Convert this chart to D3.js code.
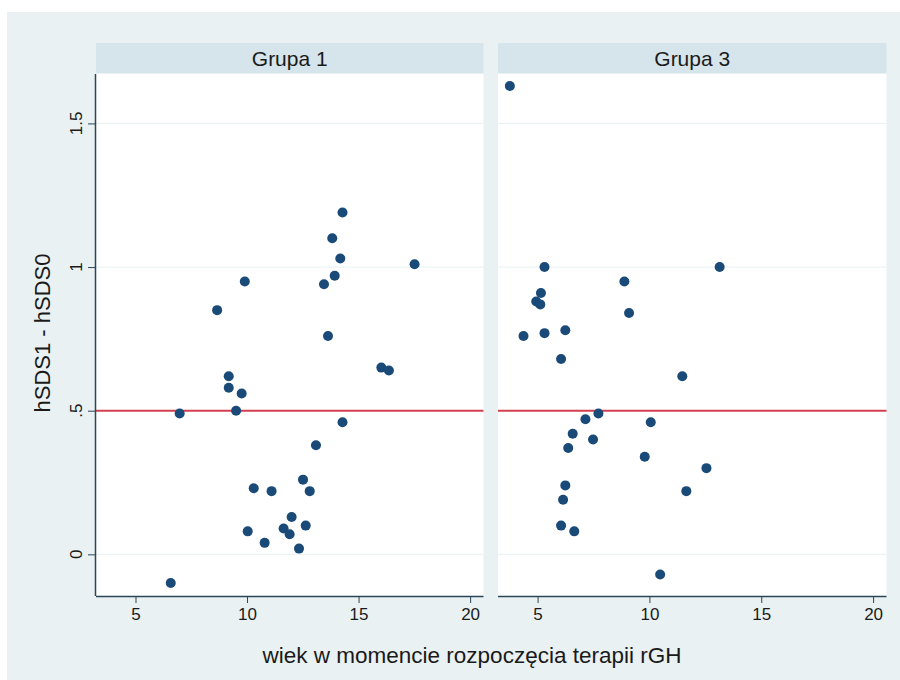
<!DOCTYPE html>
<html>
<head>
<meta charset="utf-8">
<script src="https://cdn.jsdelivr.net/npm/d3@7"></script>
<style>
  html, body { margin: 0; padding: 0; background: #ffffff; }
  svg { display: block; font-family: "Liberation Sans", Arial, sans-serif; }
</style>
</head>
<body>
<svg id="chart" width="900" height="680"></svg>
<script>
// Panel titles
const groups = ["Grupa 1", "Grupa 3"];

// Grupa 1: age at start of rGH therapy and change in hSDS
const ageG1 = [14.28, 13.82, 14.18, 17.51, 13.93, 9.90, 13.45, 8.66, 13.63, 16.02,
               16.36, 9.18, 9.18, 9.76, 6.98, 9.51, 14.28, 13.09, 12.51, 10.30,
               11.10, 12.81, 12.00, 12.63, 11.64, 11.91, 10.03, 10.79, 12.33, 6.58];
const dSdsG1 = [1.19, 1.10, 1.03, 1.01, 0.97, 0.95, 0.94, 0.85, 0.76, 0.65,
                0.64, 0.62, 0.58, 0.56, 0.49, 0.50, 0.46, 0.38, 0.26, 0.23,
                0.22, 0.22, 0.13, 0.10, 0.09, 0.07, 0.08, 0.04, 0.02, -0.10];

// Grupa 3
const ageG3 = [3.76, 5.31, 13.14, 8.88, 5.15, 4.94, 5.12, 9.09, 4.37, 5.31,
               6.24, 6.05, 11.47, 7.72, 7.14, 10.06, 6.57, 7.48, 6.37, 9.79,
               12.55, 6.24, 11.65, 6.14, 6.05, 6.64, 10.48];
const dSdsG3 = [1.63, 1.00, 1.00, 0.95, 0.91, 0.88, 0.87, 0.84, 0.76, 0.77,
                0.78, 0.68, 0.62, 0.49, 0.47, 0.46, 0.42, 0.40, 0.37, 0.34,
                0.30, 0.24, 0.22, 0.19, 0.10, 0.08, -0.07];

// Axis ticks and reference line
const xTicks = [5, 10, 15, 20];
const yTicks = [0, 0.5, 1, 1.5];
const yTickLabels = ["0", ".5", "1", "1.5"];
const refLine = 0.5;

const xTitle = "wiek w momencie rozpoczęcia terapii rGH";
const yTitle = "hSDS1 - hSDS0";

const FONT = "Liberation Sans, Arial, sans-serif";
const INK = "#1a1a1a";
const AXIS = "#2b4656";

const svg = d3.select("#chart");

// outer graph region
svg.append("rect").attr("x", 7).attr("y", 12).attr("width", 893).attr("height", 668)
  .attr("fill", "#e9f1f3");

const plotTop = 74, plotBottom = 596, stripTop = 43;
const panelRanges = [[96, 483.5], [498, 886.5]];

const y = d3.scaleLinear().domain([-0.145, 1.672]).range([plotBottom, plotTop]);

const panels = [
  { title: groups[0], xs: ageG1, ys: dSdsG1 },
  { title: groups[1], xs: ageG3, ys: dSdsG3 }
];

panels.forEach((p, i) => {
  const [x0, x1] = panelRanges[i];
  const x = d3.scaleLinear().domain([3.23, 20.6]).range([x0, x1]);
  const g = svg.append("g");

  // title strip
  g.append("rect").attr("x", x0).attr("y", stripTop).attr("width", x1 - x0)
    .attr("height", plotTop - stripTop - 1).attr("fill", "#d6e5eb");
  g.append("text").attr("x", (x0 + x1) / 2).attr("y", 66)
    .attr("text-anchor", "middle").style("font-size", "21px").style("font-family", FONT)
    .attr("fill", INK).text(p.title);

  // plot area
  g.append("rect").attr("x", x0).attr("y", plotTop).attr("width", x1 - x0)
    .attr("height", plotBottom - plotTop).attr("fill", "#ffffff");

  // horizontal grid
  g.selectAll("line.grid").data(yTicks.filter(v => v !== refLine)).join("line")
    .attr("class", "grid")
    .attr("x1", x0).attr("x2", x1)
    .attr("y1", d => y(d)).attr("y2", d => y(d))
    .attr("stroke", "#edf3f5").attr("stroke-width", 1.2);

  // reference line
  g.append("line").attr("x1", x0).attr("x2", x1)
    .attr("y1", y(refLine)).attr("y2", y(refLine))
    .attr("stroke", "#d2404f").attr("stroke-width", 2);

  // points
  g.selectAll("circle").data(p.xs.map((v, k) => [v, p.ys[k]])).join("circle")
    .attr("cx", d => x(d[0])).attr("cy", d => y(d[1])).attr("r", 5)
    .attr("fill", "#1a4a78");

  // x axis
  const xAxis = d3.axisBottom(x).tickValues(xTicks).tickSize(7).tickPadding(5)
    .tickFormat(d3.format("d"));
  const ax = g.append("g").attr("transform", `translate(0,${plotBottom})`).call(xAxis);
  ax.select(".domain").attr("d", `M${x0},0.5H${x1}`).attr("stroke", AXIS).attr("stroke-width", 1.5);
  ax.selectAll(".tick line").attr("stroke", AXIS);
  ax.selectAll(".tick text").style("font-size", "17px").style("font-family", FONT)
    .attr("fill", INK);

  // y axis on the first panel only
  if (i === 0) {
    const yAxis = d3.axisLeft(y).tickValues(yTicks).tickSize(8).tickFormat(() => "");
    const ay = g.append("g").attr("transform", `translate(${x0},0)`).call(yAxis);
    ay.select(".domain").attr("d", `M-0.5,${plotTop}V${plotBottom}`)
      .attr("stroke", AXIS).attr("stroke-width", 1.5);
    ay.selectAll(".tick line").attr("stroke", AXIS);

    // rotated tick labels
    g.selectAll("text.ylab").data(yTicks).join("text")
      .attr("class", "ylab")
      .attr("transform", d => `translate(${x0 - 14},${y(d)}) rotate(-90)`)
      .attr("text-anchor", "middle")
      .style("font-size", "17px").style("font-family", FONT)
      .attr("fill", INK)
      .text((d, k) => yTickLabels[k]);
  }
});

// axis titles
svg.append("text").attr("x", 472).attr("y", 663).attr("text-anchor", "middle")
  .style("font-size", "22.5px").style("font-family", FONT).attr("fill", INK).text(xTitle);
svg.append("text").attr("transform", "translate(50,333) rotate(-90)")
  .attr("text-anchor", "middle").style("font-size", "22px").style("font-family", FONT)
  .attr("fill", INK).text(yTitle);
</script>
</body>
</html>
